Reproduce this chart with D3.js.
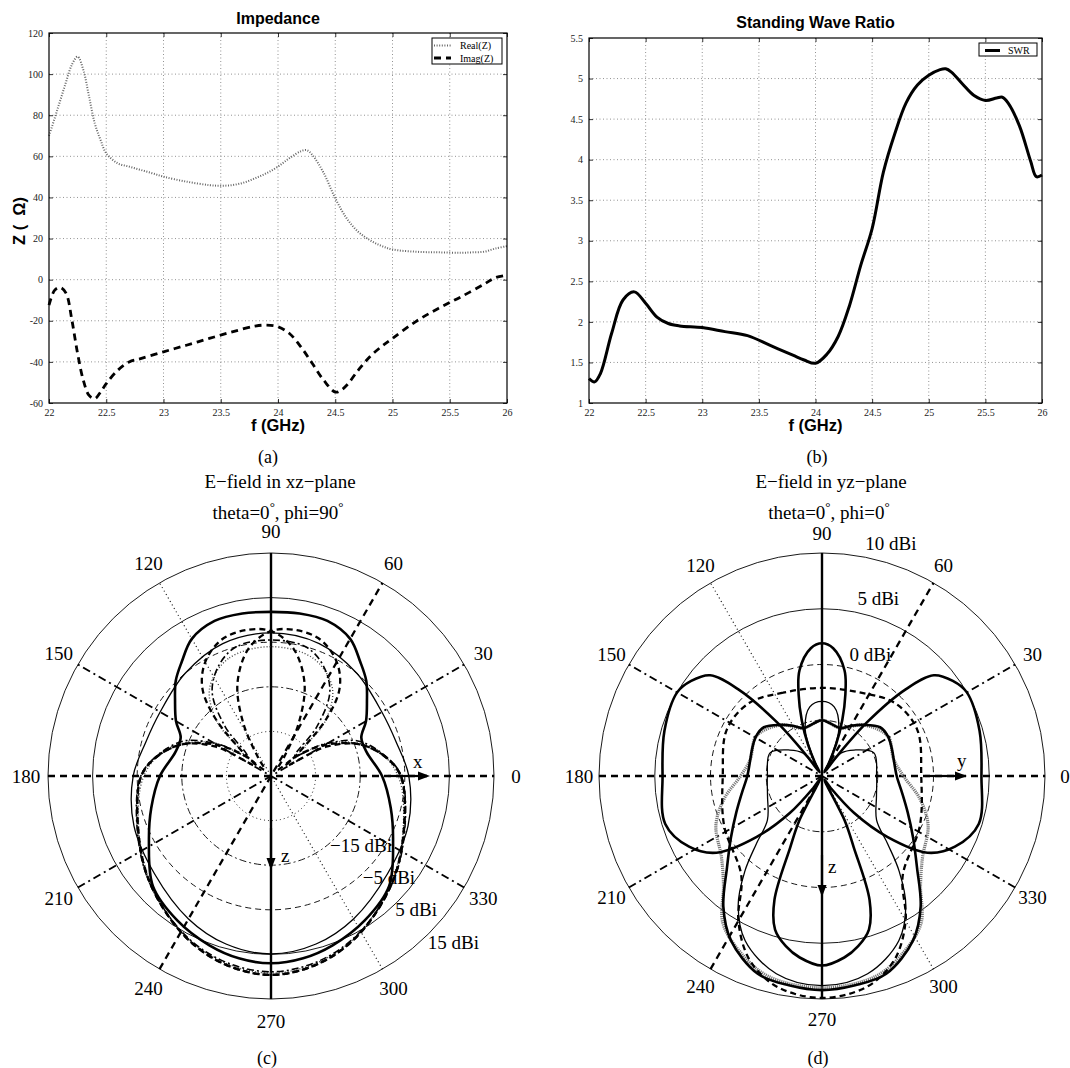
<!DOCTYPE html>
<html>
<head>
<meta charset="utf-8">
<script src="https://cdn.jsdelivr.net/npm/d3@7"></script>
<style>
  body { margin: 0; background: #fff; }
</style>
</head>
<body>
<svg id="fig" width="1070" height="1068"></svg>
<script>
var SERIF = '"Liberation Serif", "Times New Roman", serif',
    SANS = '"Liberation Sans", Arial, sans-serif';

// ---------- (a) impedance ----------
var realF = [22.0, 22.05, 22.1, 22.15, 22.2, 22.25, 22.3, 22.35, 22.4, 22.45, 22.5, 22.6, 22.7, 22.8, 22.9, 23.0, 23.2, 23.4, 23.5, 23.6, 23.7, 23.8, 23.9, 24.0, 24.1, 24.2, 24.25, 24.3, 24.4, 24.5, 24.6, 24.7, 24.8, 24.9, 25.0, 25.2, 25.4, 25.6, 25.7, 25.8, 25.9, 26.0];
var realZ = [70, 78.6, 87.5, 96.4, 104.6, 108.5, 102, 89, 76, 68, 61.5, 56.6, 55, 53.4, 51.8, 50.1, 47.7, 46, 45.7, 46, 47.2, 49.3, 51.8, 55, 59.1, 62.5, 63, 60.7, 51.8, 39.6, 29.8, 23.3, 19.3, 16.5, 14.7, 13.6, 13.3, 13.1, 13.3, 13.6, 15.2, 16.3];
var imagF = [22.0, 22.05, 22.1, 22.15, 22.2, 22.25, 22.3, 22.35, 22.4, 22.45, 22.5, 22.6, 22.7, 22.8, 23.0, 23.2, 23.4, 23.6, 23.8, 23.9, 24.0, 24.1, 24.2, 24.3, 24.4, 24.5, 24.55, 24.6, 24.7, 24.8, 24.9, 25.0, 25.2, 25.4, 25.6, 25.8, 25.9, 26.0];
var imagZ = [-12.4, -5.1, -3.8, -6.7, -19.7, -36, -49, -56.3, -57.9, -54.7, -50.6, -44.1, -40, -38.4, -35.1, -31.9, -28.6, -25.4, -22.6, -22.1, -22.9, -26.2, -32.7, -40.8, -49, -54.7, -53.8, -51.4, -44.1, -37.6, -32.7, -28.6, -20.5, -14, -8.3, -2.2, 1, 2.2];

// ---------- (b) SWR ----------
var swrF = [22.0, 22.05, 22.1, 22.2, 22.3, 22.4, 22.5, 22.6, 22.7, 22.8, 23.0, 23.2, 23.4, 23.6, 23.8, 23.9, 24.0, 24.1, 24.2, 24.3, 24.4, 24.5, 24.6, 24.7, 24.8, 24.9, 25.0, 25.1, 25.15, 25.2, 25.3, 25.4, 25.5, 25.6, 25.65, 25.7, 25.8, 25.9, 25.95, 26.0];
var swrV = [1.3, 1.26, 1.36, 1.86, 2.27, 2.37, 2.23, 2.06, 1.98, 1.95, 1.93, 1.88, 1.83, 1.71, 1.59, 1.53, 1.49, 1.6, 1.82, 2.2, 2.7, 3.15, 3.85, 4.32, 4.7, 4.92, 5.04, 5.11, 5.12, 5.08, 4.93, 4.79, 4.73, 4.76, 4.77, 4.7, 4.42, 3.98, 3.79, 3.81];

var freqTicks = [22, 22.5, 23, 23.5, 24, 24.5, 25, 25.5, 26];
var zTicks = [-60, -40, -20, 0, 20, 40, 60, 80, 100, 120];
var swrTicks = [1, 1.5, 2, 2.5, 3, 3.5, 4, 4.5, 5, 5.5];

// ---------- (c) xz-plane gain, dBi (half patterns are mirrored about the 90-270 axis) ----------
var cThickAng = [90, 100, 110, 120, 128, 135, 142, 150, 157, 166, 180, 195, 208, 223, 237, 250, 260, 270];
var cThickDbi = [1.8, 2.0, 2.0, 0.5, -2.5, -4.8, -7.7, -10.4, -13.0, -12.9, -10.1, -7.2, -4.0, 1.2, 3.6, 5.4, 6.5, 7.0];
var cThinAng = [90, 110, 130, 150, 165, 180, 200, 220, 240, 255, 270];
var cThinDbi = [-2.9, -3.4, -5.0, -6.3, -5.9, -4.1, -2.3, -0.9, 2.0, 4.0, 4.9];
var cDashAng = [0, 10, 20, 30, 37, 45, 55, 62, 70, 80, 90, 100, 110, 120, 128, 134, 140, 146, 152, 160, 170, 180, 200, 220, 240, 255, 270, 285, 300, 320, 340];
var cDashDbi = [-5.9, -9.2, -14.1, -21.1, -27, -33, -30, -22, -13, -6, -2.5, -1.8, -2.5, -5.5, -10, -17, -27, -31, -21, -14.1, -9.2, -5.9, -3.2, 0.9, 5.4, 8.3, 9.6, 8.3, 5.4, 0.9, -3.2];
var cDashDotAng = [90, 105, 115, 125, 133, 140, 148, 158, 170, 180, 200, 220, 240, 255, 270];
var cDashDotDbi = [-4.5, -5, -7.5, -12, -20, -28, -22, -14, -9, -5.8, -3.0, 1.0, 5.2, 7.8, 8.9];
var cDotAng = [90, 110, 125, 135, 142, 150, 165, 180, 200, 220, 240, 255, 270];
var cDotDbi = [-6, -7, -11, -18, -27, -20, -11, -6.5, -3.4, 0.7, 5.3, 8, 9.2];

// ---------- (d) yz-plane gain, dBi ----------
var dButterAng = [90, 95, 102, 106, 110, 114, 118, 122, 127, 130, 134, 138, 144, 150, 164, 180, 197, 208, 216, 223, 229, 234, 238, 243, 246, 249, 253, 258, 263, 270];
var dButterDbi = [1.9, 1.5, -0.3, -2.4, -4.7, -6.9, -8.7, -9.6, -7.8, -3.7, 0.8, 3.5, 4.5, 5.0, 4.7, 4.3, 4.7, 3.5, 1.7, -2.0, -5.6, -8.7, -9.6, -5.5, -3.0, 1.9, 4.4, 5.6, 6.4, 7.0];
var dMAng = [90, 100, 111, 120, 129, 140, 149, 160, 167, 180, 192, 203, 214, 224, 233, 241, 252, 261, 270];
var dMDbi = [-5.0, -5.25, -5.4, -4.8, -4.1, -3.2, -3.1, -3.3, -3.4, -3.3, -2.65, -1.65, -0.15, 1.85, 4.7, 6.85, 8.65, 9.0, 9.2];
var dThinAng = [90, 100, 110, 116, 120, 130, 141, 156, 180, 200, 219, 226, 231, 237, 245, 257, 270];
var dThinDbi = [-3.3, -3.7, -5.6, -8.2, -9.3, -7.3, -6.3, -4.9, -5.1, -4.8, -3.7, -1.5, 1.0, 3.8, 6.3, 8.2, 8.8];
var dDashAng = [90, 115, 135, 154, 180, 207, 231, 240, 248, 256, 263, 270];
var dDashDbi = [-2.1, -1.75, -0.75, -0.5, -1.1, -0.15, 1.5, 5.0, 7.6, 9.1, 9.7, 9.9];
var dHatchAng = [90, 111, 129, 149, 167, 180, 193, 205, 219, 228, 236, 245, 255, 270];
var dHatchDbi = [-5.0, -5.4, -4.1, -3.1, -3.4, -2.7, -1.0, 0.5, 1.6, 3.2, 5.9, 7.4, 8.6, 9.0];

var cRings = [-25, -15, -5, 5, 15];
var cRingLabels = ["\u221215 dBi", "\u22125 dBi", "5 dBi", "15 dBi"];
var dRings = [-5, 0, 5, 10];
var dRingLabels = ["0 dBi", "5 dBi", "10 dBi"];
var polarAngles = [0, 30, 60, 90, 120, 150, 180, 210, 240, 270, 300, 330];

var svg = d3.select("#fig");

// line styles
var styles = {
    thick:   { w: 2.6, dash: null, col: "#000" },
    thin:    { w: 1.3, dash: null, col: "#000" },
    dash:    { w: 2.3, dash: "6,4", col: "#000" },
    dashdot: { w: 1.6, dash: "7,3,2,3", col: "#000" },
    dot:     { w: 1.4, dash: "1,2", col: "#444" },
    hatch:   { w: 3.2, dash: "1.2,0.9", col: "#777" }
};

function cartesian(o) {
    var g = svg.append("g");
    var x = d3.scaleLinear().domain(o.xDomain).range([o.left, o.right]);
    var y = d3.scaleLinear().domain(o.yDomain).range([o.bottom, o.top]);

    // dotted grid
    g.selectAll(".gx").data(o.xTicks.slice(1, -1)).join("line")
        .attr("x1", d => x(d)).attr("x2", d => x(d))
        .attr("y1", o.top).attr("y2", o.bottom)
        .attr("stroke", "#777").attr("stroke-width", 0.8).attr("stroke-dasharray", "1,2.5");
    g.selectAll(".gy").data(o.yTicks.slice(1, -1)).join("line")
        .attr("x1", o.left).attr("x2", o.right)
        .attr("y1", d => y(d)).attr("y2", d => y(d))
        .attr("stroke", "#777").attr("stroke-width", 0.8).attr("stroke-dasharray", "1,2.5");

    // inward ticks on all four sides
    var fmt = d => String(d);
    g.append("g").attr("transform", "translate(0," + o.bottom + ")")
        .call(d3.axisBottom(x).tickValues(o.xTicks).tickSize(-4).tickPadding(6).tickFormat(fmt));
    g.append("g").attr("transform", "translate(" + o.left + ",0)")
        .call(d3.axisLeft(y).tickValues(o.yTicks).tickSize(-4).tickPadding(6).tickFormat(fmt));
    g.append("g").attr("transform", "translate(0," + o.top + ")")
        .call(d3.axisTop(x).tickValues(o.xTicks).tickSize(-4).tickFormat(""));
    g.append("g").attr("transform", "translate(" + o.right + ",0)")
        .call(d3.axisRight(y).tickValues(o.yTicks).tickSize(-4).tickFormat(""));
    g.selectAll(".domain").remove();
    g.selectAll(".tick line").attr("stroke", "#000").attr("stroke-width", 0.8);
    g.selectAll(".tick text").attr("font-family", SERIF).attr("font-size", 10).attr("fill", "#222");

    // series
    o.series.forEach(function (s) {
        var pts = s.xs.map((v, i) => [x(v), y(s.ys[i])]);
        g.append("path")
            .attr("d", d3.line().curve(d3.curveCatmullRom.alpha(0.5))(pts))
            .attr("fill", "none")
            .attr("stroke", s.col)
            .attr("stroke-width", s.w)
            .attr("stroke-dasharray", s.dash);
    });

    g.append("rect")
        .attr("x", o.left).attr("y", o.top)
        .attr("width", o.right - o.left).attr("height", o.bottom - o.top)
        .attr("fill", "none").attr("stroke", "#000").attr("stroke-width", 1.2);

    // legend
    var lg = o.legend;
    g.append("rect").attr("x", lg.x).attr("y", lg.y).attr("width", lg.w).attr("height", lg.h)
        .attr("fill", "#fff").attr("stroke", "#000").attr("stroke-width", 1);
    o.series.forEach(function (s, i) {
        var ly = lg.y + 7.5 + i * 12.5;
        g.append("line").attr("x1", lg.x + lg.lineX0).attr("x2", lg.x + lg.lineX1)
            .attr("y1", ly).attr("y2", ly)
            .attr("stroke", s.col).attr("stroke-width", s.w).attr("stroke-dasharray", s.dash);
        g.append("text").attr("x", lg.x + lg.textX).attr("y", ly + 3.5)
            .attr("font-family", SERIF).attr("font-size", 10).text(s.name);
    });

    g.append("text").attr("x", (o.left + o.right) / 2).attr("y", o.titleY)
        .attr("text-anchor", "middle").attr("font-family", SANS).attr("font-weight", "bold")
        .attr("font-size", 16).text(o.title);
    g.append("text").attr("x", (o.left + o.right) / 2).attr("y", 431)
        .attr("text-anchor", "middle").attr("font-family", SANS).attr("font-weight", "bold")
        .attr("font-size", 16.5).text("f (GHz)");
    if (o.ylabel) {
        g.append("text").attr("transform", "translate(25," + ((o.top + o.bottom) / 2 + 3) + ") rotate(-90)")
            .attr("text-anchor", "middle").attr("font-family", SANS).attr("font-weight", "bold")
            .attr("font-size", 16.5).text(o.ylabel);
    }
    g.append("text").attr("x", o.letterX).attr("y", 463)
        .attr("text-anchor", "middle").attr("font-family", SERIF).attr("font-size", 18).text(o.letter);
}

cartesian({
    xDomain: [22, 26], yDomain: [-60, 120], xTicks: freqTicks, yTicks: zTicks,
    left: 49, right: 507, top: 33, bottom: 403,
    title: "Impedance", titleY: 24, ylabel: "Z (\u00A0\u00A0\u03A9)", letter: "(a)", letterX: 268,
    legend: { x: 432, y: 38, w: 70, h: 26, lineX0: 2, lineX1: 19, textX: 28 },
    series: [
        { name: "Real(Z)", xs: realF, ys: realZ, col: "#666", w: 2.0, dash: "1,1.6" },
        { name: "Imag(Z)", xs: imagF, ys: imagZ, col: "#000", w: 2.8, dash: "7,5" }
    ]
});

cartesian({
    xDomain: [22, 26], yDomain: [1, 5.5], xTicks: freqTicks, yTicks: swrTicks,
    left: 589, right: 1042, top: 38, bottom: 403,
    title: "Standing Wave Ratio", titleY: 28, ylabel: null, letter: "(b)", letterX: 817,
    legend: { x: 979, y: 43, w: 58, h: 13, lineX0: 6, lineX1: 21, textX: 29 },
    series: [
        { name: "SWR", xs: swrF, ys: swrV, col: "#000", w: 3.0, dash: null }
    ]
});

// ---------- polar panels ----------
function patternPoints(ang, dbi, mode) {
    var pts = ang.map((a, i) => [a, dbi[i]]);
    if (mode === "half") {
        var back = pts.slice(1, -1).reverse().map(p => [540 - p[0], p[1]]);
        pts = pts.concat(back);
    } else if (mode === "mirror") {
        pts = pts.map(p => [180 - p[0], p[1]]);
    }
    return pts;
}

var spokeStyles = [
    { a: 0, w: 2.3, dash: "7,5" },
    { a: 30, w: 2.0, dash: "8,4,2,4" },
    { a: 60, w: 2.3, dash: "7,5" },
    { a: 90, w: 2.4, dash: null },
    { a: 120, w: 1.1, dash: "1,3" },
    { a: 150, w: 2.0, dash: "8,4,2,4" }
];
var ringDash = ["1,3", "7,3,2,3", "6,4", null, null];

function polar(o) {
    var g = svg.append("g").attr("transform", "translate(" + o.cx + "," + o.cy + ")");
    var r = d3.scaleLinear().domain(o.domain).range([0, o.R]);
    var rad = v => Math.max(0, r(v));
    var toRad = a => a * Math.PI / 180;

    var dashes = ringDash.slice(ringDash.length - o.rings.length);
    g.selectAll(".ring").data(o.rings).join("circle")
        .attr("r", d => r(d)).attr("fill", "none").attr("stroke", "#000")
        .attr("stroke-width", 0.9).attr("stroke-dasharray", (d, i) => dashes[i]);

    g.selectAll(".spoke").data(spokeStyles).join("line")
        .attr("x1", d => -o.R * Math.cos(toRad(d.a))).attr("y1", d => o.R * Math.sin(toRad(d.a)))
        .attr("x2", d => o.R * Math.cos(toRad(d.a))).attr("y2", d => -o.R * Math.sin(toRad(d.a)))
        .attr("stroke", "#000").attr("stroke-width", d => d.w).attr("stroke-dasharray", d => d.dash);

    var line = d3.lineRadial()
        .angle(d => toRad(90 - d[0]))
        .radius(d => rad(d[1]))
        .curve(d3.curveCatmullRomClosed.alpha(0.5));

    o.curves.forEach(function (c) {
        var s = styles[c.style];
        g.append("path").attr("d", line(patternPoints(c.ang, c.dbi, c.mode)))
            .attr("fill", "none").attr("stroke", s.col).attr("stroke-width", s.w)
            .attr("stroke-dasharray", s.dash).attr("stroke-linejoin", "round");
    });

    // coordinate-axis arrows
    o.arrows.forEach(function (a) {
        var t = toRad(a.ang), ux = Math.cos(t), uy = -Math.sin(t);
        var tip = a.len, base = a.len - 12;
        g.append("line")
            .attr("x1", (a.len - 42) * ux).attr("y1", (a.len - 42) * uy)
            .attr("x2", base * ux).attr("y2", base * uy)
            .attr("stroke", "#000").attr("stroke-width", 2.2);
        g.append("path")
            .attr("d", "M" + tip * ux + "," + tip * uy +
                "L" + (base * ux - 4.5 * uy) + "," + (base * uy + 4.5 * ux) +
                "L" + (base * ux + 4.5 * uy) + "," + (base * uy - 4.5 * ux) + "Z")
            .attr("fill", "#000");
        g.append("text").attr("x", a.lx).attr("y", a.ly)
            .attr("font-family", SERIF).attr("font-size", 19).text(a.label);
    });

    // angle labels
    g.selectAll(".alab").data(polarAngles).join("text")
        .attr("x", d => o.labelR * Math.cos(toRad(d)))
        .attr("y", d => -o.labelR * Math.sin(toRad(d)))
        .attr("text-anchor", "middle").attr("dy", "0.35em")
        .attr("font-family", SERIF).attr("font-size", 19)
        .text(d => d);

    // ring labels
    var labelled = o.rings.slice(o.rings.length - o.ringLabels.length);
    g.selectAll(".rlab").data(labelled).join("text")
        .attr("x", d => o.ringLabelPos(r(d))[0])
        .attr("y", d => o.ringLabelPos(r(d))[1])
        .attr("font-family", SERIF).attr("font-size", 19)
        .text((d, i) => o.ringLabels[i]);

    // titles
    g.append("text").attr("x", 9).attr("y", -288)
        .attr("text-anchor", "middle").attr("font-family", SERIF).attr("font-size", 19)
        .text(o.title1);
    var t2 = g.append("text").attr("x", 7).attr("y", -257)
        .attr("text-anchor", "middle").attr("font-family", SERIF).attr("font-size", 19);
    t2.append("tspan").text("theta=0");
    t2.append("tspan").attr("dy", -8).attr("font-size", 13).text("\u00B0");
    t2.append("tspan").attr("dy", 8).text(", phi=" + o.phi);
    t2.append("tspan").attr("dy", -8).attr("font-size", 13).text("\u00B0");

    g.append("text").attr("x", -4).attr("y", 288)
        .attr("text-anchor", "middle").attr("font-family", SERIF).attr("font-size", 18)
        .text(o.letter);
}

polar({
    cx: 271, cy: 776, R: 223, labelR: 245, domain: [-35, 15],
    rings: cRings, ringLabels: cRingLabels,
    ringLabelPos: rr => [0.73 * rr - 6, 0.72 * rr + 12],
    title1: "E\u2212field in xz\u2212plane", phi: "90", letter: "(c)",
    arrows: [
        { ang: 0, len: 159, label: "x", lx: 142, ly: -8 },
        { ang: 270, len: 94, label: "z", lx: 10, ly: 86 }
    ],
    curves: [
        { ang: cDotAng, dbi: cDotDbi, mode: "half", style: "dot" },
        { ang: cDashDotAng, dbi: cDashDotDbi, mode: "half", style: "dashdot" },
        { ang: cDashAng, dbi: cDashDbi, mode: "full", style: "dash" },
        { ang: cDashAng, dbi: cDashDbi, mode: "mirror", style: "dash" },
        { ang: cThinAng, dbi: cThinDbi, mode: "half", style: "thin" },
        { ang: cThickAng, dbi: cThickDbi, mode: "half", style: "thick" }
    ]
});

polar({
    cx: 822, cy: 776, R: 223, labelR: 243, domain: [-10, 10],
    rings: dRings, ringLabels: dRingLabels,
    ringLabelPos: rr => [0.14 * rr + 12, -0.99 * rr - 5],
    title1: "E\u2212field in yz\u2212plane", phi: "0", letter: "(d)",
    arrows: [
        { ang: 0, len: 145, label: "y", lx: 135, ly: -9 },
        { ang: 270, len: 121, label: "z", lx: 6, ly: 97 }
    ],
    curves: [
        { ang: dHatchAng, dbi: dHatchDbi, mode: "half", style: "hatch" },
        { ang: dDashAng, dbi: dDashDbi, mode: "half", style: "dash" },
        { ang: dThinAng, dbi: dThinDbi, mode: "half", style: "thin" },
        { ang: dMAng, dbi: dMDbi, mode: "half", style: "thick" },
        { ang: dButterAng, dbi: dButterDbi, mode: "half", style: "thick" }
    ]
});
</script>
</body>
</html>
